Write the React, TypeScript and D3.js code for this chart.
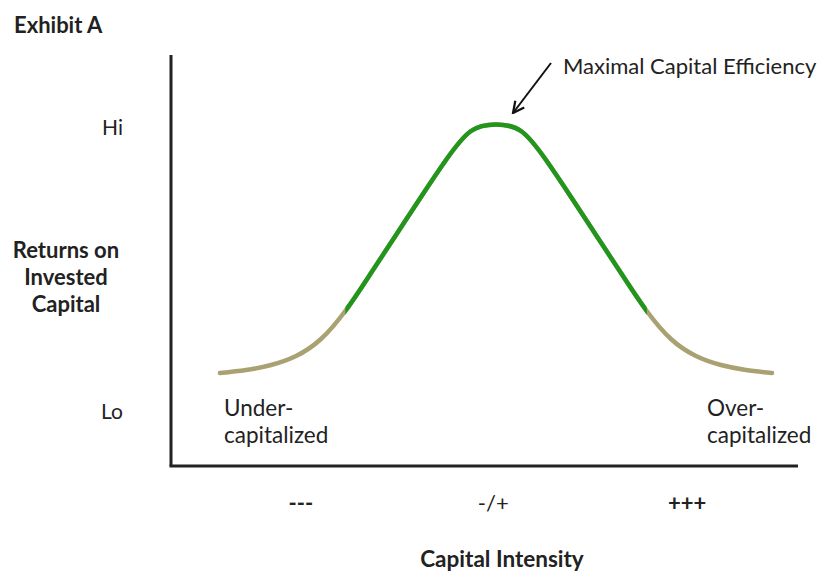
import { useEffect, useRef } from 'react';
import * as d3 from 'd3';

// curve (x: capital intensity 0-100, y: returns 0-100)
const intensity = [7.81, 11.96, 15.95, 19.94, 23.92, 27.91, 31.9, 35.89, 39.87, 43.86, 47.85, 51.83, 55.82, 59.81, 63.8, 67.78, 71.77, 75.76, 79.74, 83.73, 87.72, 91.71, 95.85];
const returns = [22.63, 23.36, 24.57, 26.76, 30.9, 37.96, 46.96, 56.2, 65.45, 74.45, 81.5, 83.09, 81.5, 74.45, 65.45, 56.2, 46.96, 37.96, 30.9, 26.76, 24.57, 23.36, 22.63];

// green stretch of the curve
const efficientFrom = 27.8;
const efficientTo = 75.9;

const yTicks = [
  { label: 'Hi', value: 82.6 },
  { label: 'Lo', value: 13.4 },
];
const xTicks = [
  { label: '---', value: 20.7, bold: true },
  { label: '-/+', value: 51.4, bold: false },
  { label: '+++', value: 82.3, bold: true },
];

const colors = {
  axis: '#222',
  green: '#22951c',
  tan: '#aaa173',
  text: '#222',
};

export default function App() {
  const ref = useRef<SVGSVGElement>(null);

  useEffect(() => {
    const svg = d3.select(ref.current);
    svg.selectAll('*').remove();
    const font = 'Lato, "Open Sans", sans-serif';

    const x = d3.scaleLinear().domain([0, 100]).range([171, 798]);
    const y = d3.scaleLinear().domain([0, 100]).range([466, 55]);

    const points = intensity.map((v, i) => [v, returns[i]] as [number, number]);
    const line = d3
      .line<[number, number]>()
      .x(d => x(d[0]))
      .y(d => y(d[1]))
      .curve(d3.curveNatural);

    // axes
    svg
      .append('line')
      .attr('x1', x(0))
      .attr('x2', x(0))
      .attr('y1', y(100))
      .attr('y2', y(0))
      .attr('stroke', colors.axis)
      .attr('stroke-width', 3);
    svg
      .append('line')
      .attr('x1', x(0) - 1.5)
      .attr('x2', x(100))
      .attr('y1', y(0))
      .attr('y2', y(0))
      .attr('stroke', colors.axis)
      .attr('stroke-width', 3);

    // curve: tan everywhere, green clipped in the middle
    svg
      .append('path')
      .attr('d', line(points))
      .attr('fill', 'none')
      .attr('stroke', colors.tan)
      .attr('stroke-width', 4.5)
      .attr('stroke-linecap', 'round');

    svg
      .append('clipPath')
      .attr('id', 'efficient')
      .append('rect')
      .attr('x', x(efficientFrom))
      .attr('width', x(efficientTo) - x(efficientFrom))
      .attr('y', 0)
      .attr('height', 574);

    svg
      .append('path')
      .attr('d', line(points))
      .attr('clip-path', 'url(#efficient)')
      .attr('fill', 'none')
      .attr('stroke', colors.green)
      .attr('stroke-width', 4.5);

    // y tick labels
    svg
      .selectAll('text.ytick')
      .data(yTicks)
      .enter()
      .append('text')
      .attr('class', 'ytick')
      .attr('x', 123)
      .attr('y', d => y(d.value) + 8)
      .attr('text-anchor', 'end')
      .style('font-family', font)
      .style('font-size', '21px')
      .attr('fill', colors.text)
      .text(d => d.label);

    // x tick labels
    svg
      .selectAll('text.xtick')
      .data(xTicks)
      .enter()
      .append('text')
      .attr('class', 'xtick')
      .attr('x', d => x(d.value))
      .attr('y', 511)
      .attr('text-anchor', 'middle')
      .style('font-family', font)
      .style('font-size', '22px')
      .style('font-weight', d => (d.bold ? 'bold' : 'normal'))
      .attr('fill', colors.text)
      .text(d => d.label);

    // titles
    svg
      .append('text')
      .attr('x', 14)
      .attr('y', 33)
      .style('font-family', font)
      .style('font-size', '22px')
      .style('font-weight', 'bold')
      .attr('fill', colors.text)
      .text('Exhibit A');

    svg
      .append('text')
      .attr('text-anchor', 'middle')
      .style('font-family', font)
      .style('font-size', '22px')
      .style('font-weight', 'bold')
      .attr('fill', colors.text)
      .selectAll('tspan')
      .data(['Returns on', 'Invested', 'Capital'])
      .enter()
      .append('tspan')
      .attr('x', 66)
      .attr('y', (d, i) => 258 + i * 27)
      .text(d => d);

    svg
      .append('text')
      .attr('x', 502)
      .attr('y', 567)
      .attr('text-anchor', 'middle')
      .style('font-family', font)
      .style('font-size', '22.5px')
      .style('font-weight', 'bold')
      .attr('fill', colors.text)
      .text('Capital Intensity');

    // end notes
    const notes = [
      { lines: ['Under-', 'capitalized'], x: 224 },
      { lines: ['Over-', 'capitalized'], x: 707 },
    ];
    notes.forEach(n => {
      svg
        .append('text')
        .style('font-family', font)
        .style('font-size', '22.5px')
        .attr('fill', colors.text)
        .selectAll('tspan')
        .data(n.lines)
        .enter()
        .append('tspan')
        .attr('x', n.x)
        .attr('y', (d, i) => 416 + i * 27)
        .text(d => d);
    });

    // annotation + arrow
    svg
      .append('defs')
      .append('marker')
      .attr('id', 'head')
      .attr('viewBox', '0 0 10 10')
      .attr('refX', 9)
      .attr('refY', 5)
      .attr('markerWidth', 7)
      .attr('markerHeight', 7)
      .attr('orient', 'auto')
      .append('path')
      .attr('d', 'M1,1 L9,5 L1,9')
      .attr('fill', 'none')
      .attr('stroke', '#111')
      .attr('stroke-width', 1.6);

    svg
      .append('line')
      .attr('x1', 551)
      .attr('y1', 63)
      .attr('x2', 513)
      .attr('y2', 113)
      .attr('stroke', '#111')
      .attr('stroke-width', 2)
      .attr('marker-end', 'url(#head)');

    svg
      .append('text')
      .attr('x', 563)
      .attr('y', 74)
      .style('font-family', font)
      .style('font-size', '22px')
      .attr('fill', colors.text)
      .text('Maximal Capital Efficiency');
  }, []);

  return (
    <div style={{ position: 'absolute', left: 0, top: 0 }}>
      <svg ref={ref} width={822} height={574} style={{ display: 'block', background: '#fff' }} />
    </div>
  );
}
